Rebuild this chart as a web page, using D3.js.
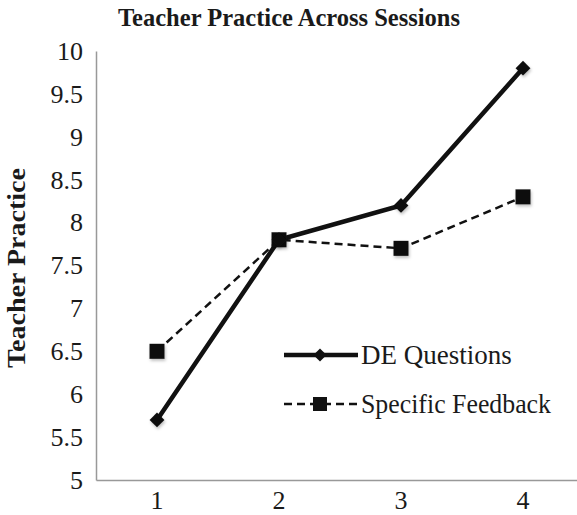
<!DOCTYPE html>
<html><head><meta charset="utf-8">
<script src="https://cdn.jsdelivr.net/npm/d3@7"></script>
<style>body{margin:0;background:#fff}svg{display:block}text{font-family:"Liberation Serif","Times New Roman",serif;fill:#1a1a1a}</style>
</head><body>
<script>
const sessions = ["1","2","3","4"];
const deQuestions = [5.7, 7.8, 8.2, 9.8];
const specificFeedback = [6.5, 7.8, 7.7, 8.3];
const yTicks = [5,5.5,6,6.5,7,7.5,8,8.5,9,9.5,10];
const title = "Teacher Practice Across Sessions";
const yLabel = "Teacher Practice";

const W=577,H=515;
const svg=d3.select("body").append("svg").attr("width",W).attr("height",H);
const defs=svg.append("defs");
defs.append("filter").attr("id","sh").attr("x","-50%").attr("y","-50%").attr("width","200%").attr("height","200%")
  .append("feDropShadow").attr("dx",1).attr("dy",2).attr("stdDeviation",1.5).attr("flood-color","#000").attr("flood-opacity",0.25);
const x=d3.scaleBand().domain(sessions).range([96,584]).padding(0);
const y=d3.scaleLinear().domain([5,10]).range([480,51]);
const cx=d=>x(d)+x.bandwidth()/2;

svg.append("text").attr("x",289).attr("y",26).attr("text-anchor","middle")
  .attr("textLength",342).attr("lengthAdjust","spacingAndGlyphs")
  .style("font-size","25px").style("font-weight","bold").text(title);
svg.append("text").attr("transform","translate(25,268) rotate(-90)").attr("text-anchor","middle")
  .attr("textLength",200).attr("lengthAdjust","spacingAndGlyphs")
  .style("font-size","26px").style("font-weight","bold").text(yLabel);

const ya=svg.append("g").attr("transform","translate(96,0)")
  .call(d3.axisLeft(y).tickValues(yTicks).tickSize(0).tickPadding(13).tickFormat(d3.format("")));
ya.select(".domain").attr("stroke","#999").attr("stroke-width",1.5);
ya.selectAll("text").style("font-size","26px").style("font-family","'Liberation Serif',serif").attr("fill","#1a1a1a");
const xa=svg.append("g").attr("transform","translate(0,480)")
  .call(d3.axisBottom(x).tickSize(0).tickPadding(11));
xa.select(".domain").attr("stroke","#999").attr("stroke-width",1.5);
xa.selectAll("text").style("font-size","26px").style("font-family","'Liberation Serif',serif").attr("fill","#1a1a1a");

const line=d3.line().x((d,i)=>cx(sessions[i])).y(d=>y(d));
svg.append("path").datum(specificFeedback).attr("d",line).attr("fill","none")
  .attr("stroke","#111").attr("stroke-width",2.5).attr("stroke-dasharray","8,5");
svg.append("path").datum(deQuestions).attr("d",line).attr("fill","none")
  .attr("stroke","#111").attr("stroke-width",4.5);
svg.selectAll(".sq").data(specificFeedback).enter().append("rect")
  .attr("x",(d,i)=>cx(sessions[i])-7.5).attr("y",d=>y(d)-7.5).attr("width",15).attr("height",15).attr("fill","#111").attr("filter","url(#sh)");
const diamond=d3.symbol().type(d3.symbolDiamond2).size(140);
svg.selectAll(".dm").data(deQuestions).enter().append("path").attr("d",diamond)
  .attr("transform",(d,i)=>`translate(${cx(sessions[i])},${y(d)})`).attr("fill","#111").attr("filter","url(#sh)");

// legend
const lg=svg.append("g");
lg.append("line").attr("x1",284).attr("x2",358).attr("y1",355).attr("y2",355).attr("stroke","#111").attr("stroke-width",4.5);
lg.append("path").attr("d",d3.symbol().type(d3.symbolDiamond2).size(110)).attr("transform","translate(320,355)").attr("fill","#111");
lg.append("text").attr("x",361).attr("y",364).style("font-size","27px").text("DE Questions");
lg.append("line").attr("x1",284).attr("x2",358).attr("y1",404).attr("y2",404).attr("stroke","#111").attr("stroke-width",2.5).attr("stroke-dasharray","8,5");
lg.append("rect").attr("x",313).attr("y",397).attr("width",14).attr("height",14).attr("fill","#111");
lg.append("text").attr("x",361).attr("y",413).attr("textLength",190).attr("lengthAdjust","spacingAndGlyphs").style("font-size","27px").text("Specific Feedback");
</script>
</body></html>
